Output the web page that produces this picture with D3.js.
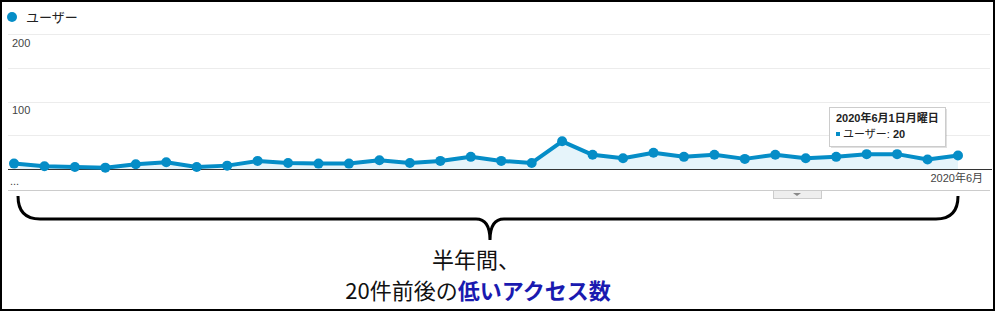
<!DOCTYPE html>
<html>
<head>
<meta charset="utf-8">
<script src="https://cdn.jsdelivr.net/npm/d3@7"></script>
<style>
  body { margin: 0; background: #fff; }
  svg { display: block; }
</style>
</head>
<body>
<svg width="996" height="312"></svg>
<script>
// weekly users, Oct 2019 - Jun 2020
var weeks = ['2019-10-28','2019-11-04','2019-11-11','2019-11-18','2019-11-25','2019-12-02','2019-12-09','2019-12-16',
             '2019-12-23','2019-12-30','2020-01-06','2020-01-13','2020-01-20','2020-01-27','2020-02-03','2020-02-10',
             '2020-02-17','2020-02-24','2020-03-02','2020-03-09','2020-03-16','2020-03-23','2020-03-30','2020-04-06',
             '2020-04-13','2020-04-20','2020-04-27','2020-05-04','2020-05-11','2020-05-18','2020-05-25','2020-06-01'];
var users = [8, 4, 3, 2, 7, 10, 3, 5, 12, 9, 8, 8, 13, 9, 12, 18,
             12, 9, 41, 21, 16, 24, 18, 21, 15, 21, 16, 18, 22, 22, 14, 20];
var yTicks = [100, 200];
var gridTicks = [50, 100, 150, 200];

var svg = d3.select('svg');
var blue = '#058dc7';
var jp = '"Liberation Sans", Arial, "Noto Sans CJK JP", sans-serif';

var x = d3.scalePoint().domain(weeks).range([14, 958]);
var y = d3.scaleLinear().domain([0, 200]).range([169, 34]);

// grid
svg.selectAll('.grid')
    .data(gridTicks)
    .enter().append('line')
    .attr('class', 'grid')
    .attr('x1', 8).attr('x2', 990)
    .attr('y1', function(d){ return Math.round(y(d)) + 0.5; })
    .attr('y2', function(d){ return Math.round(y(d)) + 0.5; })
    .style('stroke', '#ececec')
    .style('stroke-width', 1);

svg.selectAll('.ylab')
    .data(yTicks)
    .enter().append('text')
    .attr('class', 'ylab')
    .attr('x', 12)
    .attr('y', function(d){ return y(d) + 12.5; })
    .text(function(d){ return d; })
    .style('font-family', jp)
    .style('font-size', '11px')
    .style('fill', '#444');

// area + line
var area = d3.area()
    .x(function(d, i){ return x(weeks[i]); })
    .y0(y(0))
    .y1(function(d){ return y(d); });
var line = d3.line()
    .x(function(d, i){ return x(weeks[i]); })
    .y(function(d){ return y(d); });

svg.append('path')
    .datum(users)
    .attr('d', area)
    .style('fill', '#e6f4fa');

svg.append('line')
    .attr('x1', 8).attr('x2', 992)
    .attr('y1', 169.5).attr('y2', 169.5)
    .style('stroke', '#333')
    .style('stroke-width', 1);

svg.append('path')
    .datum(users)
    .attr('d', line)
    .style('fill', 'none')
    .style('stroke', blue)
    .style('stroke-width', 4)
    .style('stroke-linejoin', 'round');

svg.selectAll('.dot')
    .data(users)
    .enter().append('circle')
    .attr('class', 'dot')
    .attr('cx', function(d, i){ return x(weeks[i]); })
    .attr('cy', function(d){ return y(d); })
    .attr('r', 5)
    .style('fill', blue);

// legend
svg.append('circle')
    .attr('cx', 12).attr('cy', 17).attr('r', 5)
    .style('fill', blue);
svg.append('text')
    .attr('x', 26).attr('y', 22)
    .text('ユーザー')
    .style('font-family', jp)
    .style('font-size', '13px')
    .style('fill', '#222');

// x labels
svg.append('text')
    .attr('x', 10).attr('y', 185)
    .text('...')
    .style('font-family', jp)
    .style('font-size', '11px')
    .style('fill', '#444');
svg.append('text')
    .attr('x', x(weeks[weeks.length - 1]) + 25).attr('y', 182)
    .attr('text-anchor', 'end')
    .text('2020年6月')
    .style('font-family', jp)
    .style('font-size', '11px')
    .style('fill', '#444');

// bottom rule and scroll thumb
svg.append('line')
    .attr('x1', 8).attr('x2', 990)
    .attr('y1', 190.5).attr('y2', 190.5)
    .style('stroke', '#ccc');
svg.append('rect')
    .attr('x', 773.5).attr('y', 190.5)
    .attr('width', 48).attr('height', 8)
    .style('fill', '#eee')
    .style('stroke', '#ccc');
svg.append('path')
    .attr('d', 'M793,193 L801,193 L797,196 Z')
    .style('fill', '#888');

// tooltip
var last = users.length - 1;
var tip = svg.append('g').attr('transform', 'translate(829,107)');
tip.append('rect')
    .attr('x', 2).attr('y', 2)
    .attr('width', 116).attr('height', 39)
    .style('fill', 'rgba(0,0,0,0.12)');
tip.append('rect')
    .attr('x', 0.5).attr('y', 0.5)
    .attr('width', 116).attr('height', 39)
    .style('fill', '#fff')
    .style('stroke', '#ccc');
tip.append('text')
    .attr('x', 7).attr('y', 15)
    .text('2020年6月1日月曜日')
    .style('font-family', jp)
    .style('font-size', '11px')
    .style('font-weight', 'bold')
    .style('fill', '#222');
tip.append('rect')
    .attr('x', 7).attr('y', 25)
    .attr('width', 4).attr('height', 4)
    .style('fill', blue);
var t2 = tip.append('text')
    .attr('x', 14).attr('y', 30.5)
    .style('font-family', jp)
    .style('font-size', '11px')
    .style('fill', '#222');
t2.append('tspan').text('ユーザー: ');
t2.append('tspan').style('font-weight', 'bold').text(users[last]);

// brace under the chart
var bx0 = x(weeks[0]) + 4, bx1 = x(weeks[last]), bm = (bx0 + bx1) / 2 + 2;
svg.append('path')
    .attr('d', 'M' + bx0 + ',196 Q' + bx0 + ',219 ' + (bx0 + 22) + ',219 L' + (bm - 14) + ',219 Q' + bm + ',219 ' + bm + ',240' +
               ' Q' + bm + ',219 ' + (bm + 14) + ',219 L' + (bx1 - 22) + ',219 Q' + bx1 + ',219 ' + bx1 + ',196')
    .style('fill', 'none')
    .style('stroke', '#000')
    .style('stroke-width', 3);

var cap = '"Noto Sans CJK JP", sans-serif';
svg.append('text')
    .attr('x', 476).attr('y', 268)
    .attr('text-anchor', 'middle')
    .text('半年間、')
    .style('font-family', cap)
    .style('font-size', '22px')
    .style('fill', '#111');
var t3 = svg.append('text')
    .attr('x', 478).attr('y', 299)
    .attr('text-anchor', 'middle')
    .style('font-family', cap)
    .style('font-size', '22px')
    .style('fill', '#111');
t3.append('tspan').text('20件前後の');
t3.append('tspan').text('低いアクセス数')
    .style('font-weight', 'bold')
    .style('fill', '#1a1ab0');

// outer frame
svg.append('rect')
    .attr('x', 1).attr('y', 1)
    .attr('width', 993).attr('height', 309)
    .style('fill', 'none')
    .style('stroke', '#000')
    .style('stroke-width', 2);
</script>
</body>
</html>
